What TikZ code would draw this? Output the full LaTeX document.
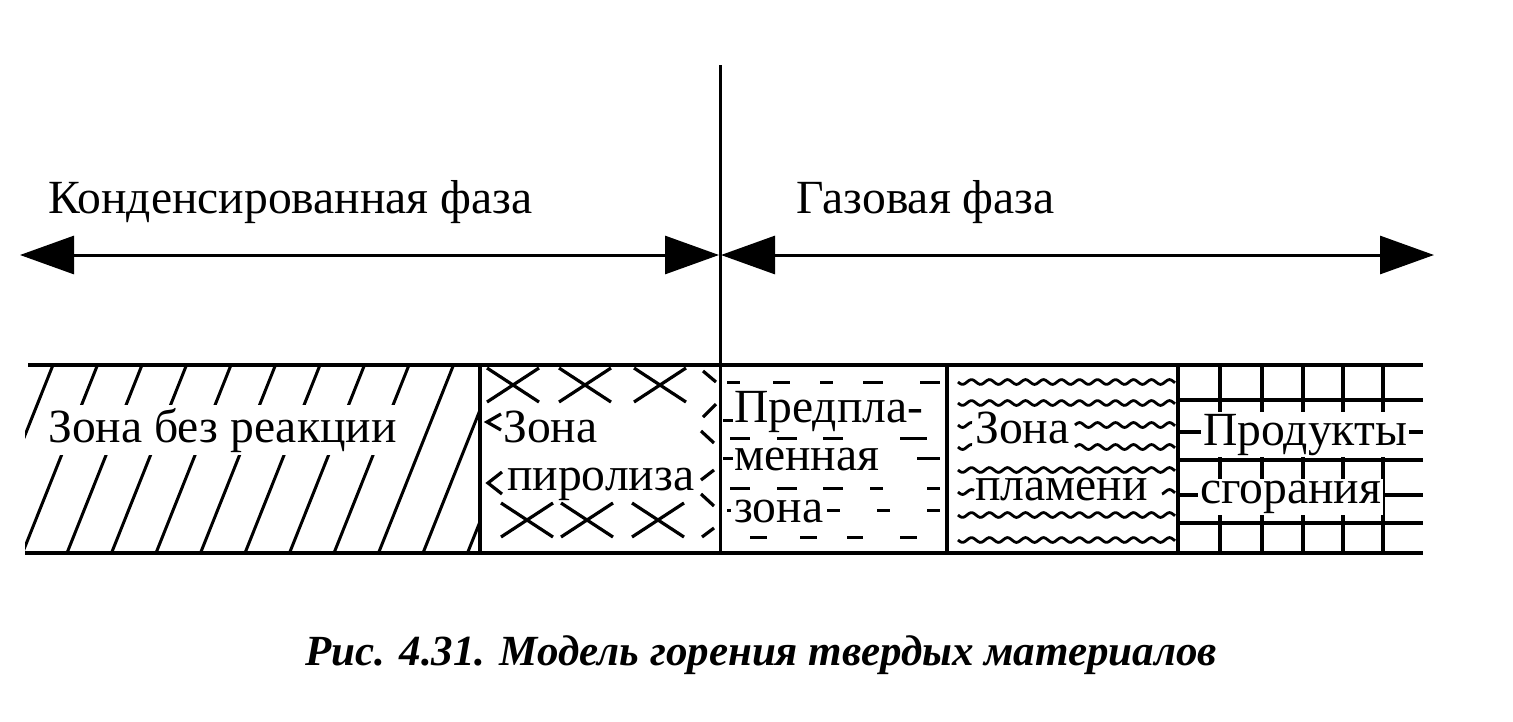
\documentclass[tikz,border=0pt]{standalone}
\usepackage{fontspec}
\setmainfont{Liberation Serif}
\usetikzlibrary{arrows.meta}
\newcommand\wavyrow[3]{\draw[wavy] plot[domain=0:#2,samples=120,smooth] ({#1+\x},{#3+2.4*sin(20*(\x+#1-958))});}
\newcommand\xcross[2]{\draw[markline] (#1,#2) ++(-26,-17) -- ++(52,34) ++(0,-34) -- ++(-52,34);}
\begin{document}
\begin{tikzpicture}[x=1pt,y=-1pt,
  every node/.style={inner sep=0pt,font=\fontsize{47.6}{56}\selectfont},
  border/.style={line width=3.5pt},
  shaft/.style={line width=3pt},
  hatch/.style={line width=3pt},
  markline/.style={line width=3.2pt},
  dashmark/.style={line width=3pt},
  wavy/.style={line width=2.8pt},
  gridline/.style={line width=3.5pt},
  tip/.style={{Triangle[length=54pt,width=38pt]}-{Triangle[length=54pt,width=38pt]}},
  lbl/.style={anchor=base west},
  masked/.style={anchor=base west,fill=white}]
\useasboundingbox (0,0) rectangle (1513,721);

% coordinates
\coordinate (condL) at (20,255);
\coordinate (condR) at (719,255);
\coordinate (gasL) at (721,255);
\coordinate (gasR) at (1434,255);
\coordinate (axisTop) at (720,65);
\coordinate (axisBot) at (720,553);
\coordinate (stripTL) at (28,365);
\coordinate (stripTR) at (1423,365);
\coordinate (stripBL) at (25,553);
\coordinate (stripBR) at (1423,553);
\coordinate (d1t) at (480,365); \coordinate (d1b) at (480,553);
\coordinate (d3t) at (947,365); \coordinate (d3b) at (947,553);
\coordinate (d4t) at (1178,365); \coordinate (d4b) at (1178,553);

% phase labels and arrows
\node[lbl] (tcond) at (48,213) {Конденсированная фаза};
\node[lbl] (tgas) at (796,213) {Газовая фаза};
\draw[shaft,tip] (condL) -- (condR);
\draw[shaft,tip] (gasL) -- (gasR);

% zone 1 hatching
\begin{scope}
\clip (25,365) rectangle (480,553);
\foreach \k in {0,...,11}
  \draw[hatch] ({53+44.5*\k},365) -- ({53+44.5*\k-75},553);
\end{scope}
\node[masked,inner sep=3pt] (z1) at (45,442) {Зона без реакции};

% zone 2 crosses
\xcross{513}{385}\xcross{585}{385}\xcross{660}{385}
\xcross{527}{520}\xcross{587}{520}\xcross{658}{520}
\draw[markline] (703,371) -- (716,382);
\draw[markline] (702,537) -- (714,528);
\draw[markline] (501,414) -- (487,422) -- (501,430);
\draw[markline] (502,472) -- (488,483) -- (502,494);
\draw[markline] (703,417) -- (716,404);
\draw[markline] (701,431) -- (714,443);
\draw[markline] (701,480) -- (714,470);
\draw[markline] (701,494) -- (714,506);
\node[lbl] (z2a) at (503,442) {Зона};
\node[lbl] (z2b) at (507,490) {пиролиза};

% zone 3 dashes
\foreach \a/\b/\y in {727/740/382,773/790/382,820/833/382,863/883/382,920/940/382,
  723/733/420,
  730/750/438,777/797/438,823/843/438,900/927/438,
  723/733/458,917/940/458,
  730/750/488,777/797/488,823/843/488,870/883/488,927/940/488,
  727/731/510,827/840/510,877/890/510,927/940/510,
  750/767/537,800/817/537,847/863/537,900/917/537}
  \draw[dashmark] (\a,\y) -- (\b,\y);
\node[lbl] (z3a) at (734,422) {Предпла-};
\node[lbl] (z3b) at (734,470) {менная};
\node[lbl] (z3c) at (734,522) {зона};

% zone 4 waves
\wavyrow{958}{217}{382}
\wavyrow{958}{217}{403}
\wavyrow{958}{14}{425}\wavyrow{1075}{100}{425}
\wavyrow{958}{14}{447}\wavyrow{1075}{100}{447}
\wavyrow{958}{217}{470}
\wavyrow{958}{16}{492}\wavyrow{1162}{13}{492}
\wavyrow{958}{217}{515}
\wavyrow{958}{217}{540}
\node[lbl] (z4a) at (975,443) {Зона};
\node[lbl] (z4b) at (975,500) {пламени};

% zone 5 grid
\foreach \y in {400,432,460,495,523}
  \draw[gridline] (1178,\y) -- (1423,\y);
\foreach \x in {1220,1262,1303,1343,1383}
  \draw[gridline] (\x,365) -- (\x,553);
\node[masked,inner sep=2pt] (z5a) at (1201,445) {Продукты};
\node[masked,inner sep=2pt] (z5b) at (1198,503) {сгорания};

% strip borders and dividers
\draw[border] (stripTL) -- (stripTR);
\draw[border] (stripBL) -- (stripBR);
\draw[border] (d1t) -- (d1b);
\draw[border] (d3t) -- (d3b);
\draw[border] (d4t) -- (d4b);
\draw[shaft] (axisTop) -- (axisBot);

% caption
\node[lbl,font=\fontsize{43}{50}\selectfont\bfseries\itshape] (cap) at (305,665)
  {Рис. 4.31. Модель горения твердых материалов};
\end{tikzpicture}
\end{document}
